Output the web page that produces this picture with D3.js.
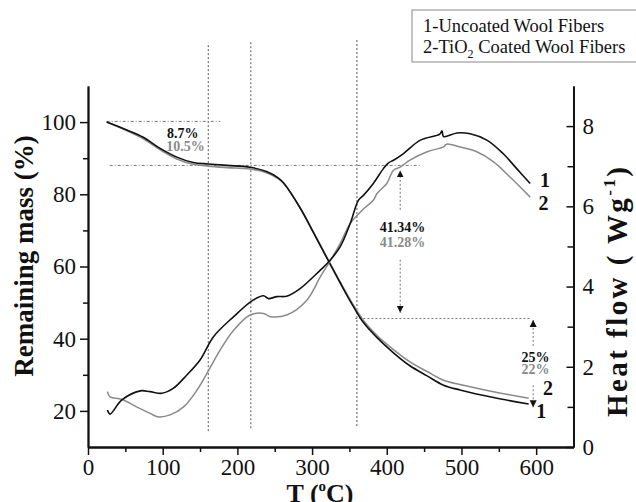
<!DOCTYPE html>
<html>
<head>
<meta charset="utf-8">
<script src="https://cdn.jsdelivr.net/npm/d3@7"></script>
<style>
  body { margin: 0; background: #fff; }
  text { font-family: "Liberation Serif", "Times New Roman", serif; }
</style>
</head>
<body>
<svg id="mysvg" width="636" height="502"></svg>
<script>
// TG curves: [T (°C), remaining mass (%)]
const tgUncoated = [[25,100],[52,97.8],[74,95.8],[96,92.8],[119,90.3],[141,88.8],[161,88.4],[186,88.0],[217,87.5],[239,86.3],[255,84.5],[262,83.1],[284,76.2],[302,69.3],[322,61.5],[337.5,55.5],[355,49.0],[369,44.4],[387,40.3],[409,36.1],[431,32.5],[454,29.7],[476,27.1],[498,25.8],[543,23.7],[590,21.9]];
const tgCoated = [[25,100],[52,97.6],[74,95.4],[96,92.4],[119,89.8],[141,88.3],[161,87.8],[186,87.4],[217,87.0],[239,86.0],[255,84.3],[262,83.0],[284,76.3],[302,69.5],[322,61.7],[337.5,55.8],[355,49.4],[369,45.0],[387,40.9],[409,37.0],[431,33.6],[454,30.9],[476,28.5],[498,27.3],[543,25.3],[590,23.5]];

// DSC curves: [T (°C), heat flow (W/g)]
const dscUncoated = [[26,0.92],[29.5,0.82],[45,1.17],[70,1.40],[83,1.38],[99,1.34],[114,1.46],[132,1.79],[150,2.17],[168,2.75],[195,3.25],[221,3.66],[235,3.77],[241.5,3.70],[253,3.75],[266,3.76],[284,3.95],[311,4.41],[322,4.61],[337.5,4.99],[351,5.57],[362,6.15],[369,6.28],[382,6.57],[395.5,6.94],[402,7.08],[409,7.15],[422,7.31],[445,7.65],[471,7.80],[474,7.88],[476,7.74],[494,7.83],[511.6,7.81],[534,7.65],[556,7.31],[574,6.94],[592,6.57]];
const dscCoated = [[26,1.38],[29.5,1.25],[45,1.19],[65,1.00],[83,0.84],[94,0.75],[110,0.80],[128,1.00],[146,1.42],[163,1.96],[177,2.42],[195,2.91],[217,3.29],[235,3.33],[244,3.25],[266,3.29],[293,3.66],[311,4.24],[322,4.57],[337.5,5.07],[351,5.57],[369,5.94],[382,6.15],[387,6.32],[400,6.57],[409,6.90],[418,6.98],[431,7.15],[454,7.36],[476,7.48],[480,7.55],[498,7.48],[520.5,7.36],[543,7.11],[565,6.73],[592,6.23]];

// ticks
const xTicks = [0,100,200,300,400,500,600];
const xMinor = [50,150,250,350,450,550];
const leftTicks = [20,40,60,80,100];
const leftMinor = [30,50,70,90];
const rightTicks = [0,2,4,6,8];
const rightMinor = [1,3,5,7];

// guide lines in data units (left axis)
const vGuides = [[161,14.4,122],[218,15.2,122.7],[360,15.8,123.3]]; // T, from, to
const hGuides = [[100.2,25,177],[88.0,29,445],[45.6,358,592]];       // value, T from, T to
const arrows = [[418,75.7,86.6],[418,61.9,47.2],[596,38.0,45.2],[596,27.1,21.0]]; // T, tail, head

// percentage annotations: text, T (centre), left value (baseline), colour group
const notes = [["8.7%",127,95.7,0],["10.5%",130.5,91.9,1],["41.34%",421,69.5,0],["41.28%",421,65.4,1],["25%",599,33.6,0],["22%",599,30.3,1]];
// curve numbers: text, T, value, axis
const curveNums = [["1",605,6.48,"R"],["2",603,5.90,"R"],["2",609,24.4,"L"],["1",600,17.9,"L"]];

const colors = ["#111", "#8a8a8a"];

const svg = d3.select("#mysvg");

const x = d3.scaleLinear().domain([0,650]).range([88,573.5]);
const yL = d3.scaleLinear().domain([10,110]).range([447,86]);
const yR = d3.scaleLinear().domain([0,9]).range([447,86]);

const defs = svg.append("defs");
defs.append("marker")
  .attr("id","head")
  .attr("viewBox","0 0 10 10")
  .attr("refX",10).attr("refY",5)
  .attr("markerWidth",7).attr("markerHeight",9)
  .attr("markerUnits","userSpaceOnUse")
  .attr("orient","auto")
  .append("path").attr("d","M0,0L10,5L0,10Z").attr("fill","#111");

// guides
svg.selectAll(".vguide").data(vGuides).join("line")
  .attr("class","vguide")
  .attr("x1", d => x(d[0])).attr("x2", d => x(d[0]))
  .attr("y1", d => yL(d[1])).attr("y2", d => yL(d[2]))
  .attr("stroke","#555").attr("stroke-width",1).attr("stroke-dasharray","2,2");

svg.selectAll(".hguide").data(hGuides).join("line")
  .attr("class","hguide")
  .attr("x1", d => x(d[1])).attr("x2", d => x(d[2]))
  .attr("y1", d => yL(d[0])).attr("y2", d => yL(d[0]))
  .attr("stroke","#777").attr("stroke-width",1)
  .attr("stroke-dasharray", (d,i) => i < 2 ? "3,2,1,2" : "2,2");

svg.selectAll(".arrow").data(arrows).join("line")
  .attr("class","arrow")
  .attr("x1", d => x(d[0])).attr("x2", d => x(d[0]))
  .attr("y1", d => yL(d[1])).attr("y2", d => yL(d[2]))
  .attr("stroke","#777").attr("stroke-width",1).attr("stroke-dasharray","2,2")
  .attr("marker-end","url(#head)");

// curves
const lineL = d3.line().x(d => x(d[0])).y(d => yL(d[1])).curve(d3.curveCatmullRom);
const lineR = d3.line().x(d => x(d[0])).y(d => yR(d[1])).curve(d3.curveCatmullRom);

svg.append("path").datum(tgCoated).attr("d", lineL)
  .attr("fill","none").attr("stroke",colors[1]).attr("stroke-width",1.6);
svg.append("path").datum(tgUncoated).attr("d", lineL)
  .attr("fill","none").attr("stroke",colors[0]).attr("stroke-width",1.6);
svg.append("path").datum(dscCoated).attr("d", lineR)
  .attr("fill","none").attr("stroke",colors[1]).attr("stroke-width",1.5);
svg.append("path").datum(dscUncoated).attr("d", lineR)
  .attr("fill","none").attr("stroke",colors[0]).attr("stroke-width",1.6);

// axes
function styleAxis(g) {
  g.selectAll("path.domain").attr("stroke","#111").attr("stroke-width",1.8);
  g.selectAll(".tick line").attr("stroke","#111").attr("stroke-width",1.5);
  g.selectAll(".tick text").attr("font-family","Liberation Serif").attr("font-size",23).attr("fill","#111");
}

svg.append("g").attr("transform",`translate(0,${yL.range()[0]})`)
  .call(d3.axisBottom(x).tickValues(xTicks).tickSize(8).tickSizeOuter(0).tickPadding(4))
  .call(styleAxis);
svg.append("g").attr("transform",`translate(0,${yL.range()[0]})`)
  .call(d3.axisBottom(x).tickValues(xMinor).tickSize(5).tickSizeOuter(0).tickFormat(""))
  .call(styleAxis);

svg.append("g").attr("transform",`translate(${x.range()[0]},0)`)
  .call(d3.axisLeft(yL).tickValues(leftTicks).tickSize(8).tickSizeOuter(0).tickPadding(4))
  .call(styleAxis);
svg.append("g").attr("transform",`translate(${x.range()[0]},0)`)
  .call(d3.axisLeft(yL).tickValues(leftMinor).tickSize(5).tickSizeOuter(0).tickFormat(""))
  .call(styleAxis);

svg.append("g").attr("transform",`translate(${x.range()[1]},0)`)
  .call(d3.axisRight(yR).tickValues(rightTicks).tickSize(-7).tickSizeOuter(0).tickPadding(9))
  .call(styleAxis);
svg.append("g").attr("transform",`translate(${x.range()[1]},0)`)
  .call(d3.axisRight(yR).tickValues(rightMinor).tickSize(-6).tickSizeOuter(0).tickFormat(""))
  .call(styleAxis);

// axis titles
svg.append("text")
  .attr("transform","translate(33,256) rotate(-90)")
  .attr("text-anchor","middle").attr("font-weight","bold").attr("font-size",27).attr("fill","#111")
  .text("Remaining mass (%)");

const rt = svg.append("text")
  .attr("transform","translate(627,292) rotate(-90)")
  .attr("text-anchor","middle").attr("font-weight","bold").attr("font-size",29).attr("fill","#111")
  .attr("textLength",250).attr("lengthAdjust","spacing");
rt.append("tspan").text("Heat flow ( Wg");
rt.append("tspan").attr("font-size",17).attr("dy",-12).text("-1");
rt.append("tspan").attr("dy",12).text(")");

const xt = svg.append("text")
  .attr("x",320).attr("y",502)
  .attr("text-anchor","middle").attr("font-weight","bold").attr("font-size",26).attr("fill","#111");
xt.append("tspan").text("T (");
xt.append("tspan").attr("font-size",15).attr("dy",-11).text("o");
xt.append("tspan").attr("dy",11).text("C)");

// annotations
svg.selectAll(".note").data(notes).join("text")
  .attr("class","note")
  .attr("x", d => x(d[1])).attr("y", d => yL(d[2]))
  .attr("text-anchor","middle").attr("font-weight","bold").attr("font-size",14)
  .attr("fill", d => colors[d[3]])
  .text(d => d[0]);

svg.selectAll(".cnum").data(curveNums).join("text")
  .attr("class","cnum")
  .attr("x", d => x(d[1]))
  .attr("y", d => d[3] === "R" ? yR(d[2]) : yL(d[2]))
  .attr("font-weight","bold").attr("font-size",20).attr("fill","#111")
  .text(d => d[0]);

// legend box
const lg = svg.append("g");
lg.append("rect").attr("x",412).attr("y",10).attr("width",240).attr("height",52)
  .attr("fill","#fff").attr("stroke","#888").attr("stroke-width",1);
lg.append("text").attr("x",423).attr("y",32).attr("font-size",18.5).attr("fill","#111")
  .text("1-Uncoated Wool Fibers");
const l2 = lg.append("text").attr("x",423).attr("y",53).attr("font-size",18.5).attr("fill","#111");
l2.append("tspan").text("2-TiO");
l2.append("tspan").attr("font-size",12).attr("dy",5).text("2");
l2.append("tspan").attr("dy",-5).text(" Coated Wool Fibers");
</script>
</body>
</html>
